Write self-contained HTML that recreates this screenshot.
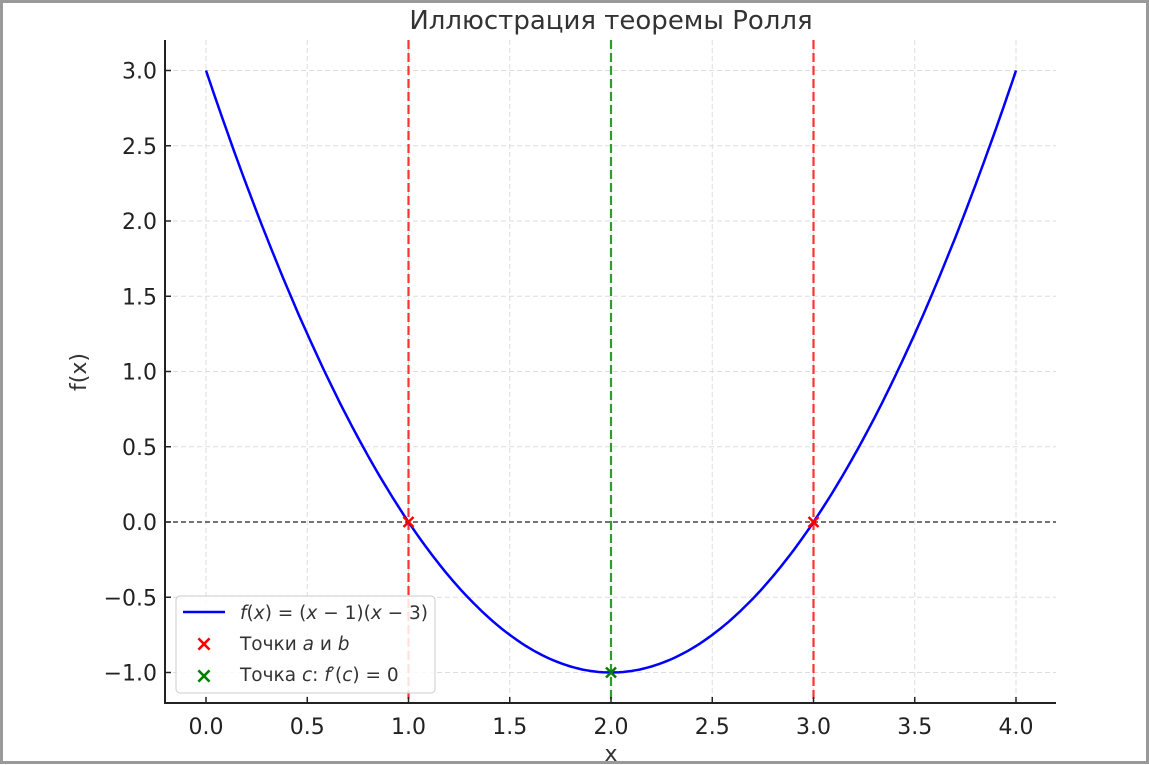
<!DOCTYPE html>
<html><head><meta charset="utf-8"><style>
html,body{margin:0;padding:0;background:#fff}
svg{display:block;font-family:"DejaVu Sans","Liberation Sans",sans-serif}
</style></head><body>
<svg id="chart" width="1149" height="765">
<rect x="1.5" y="1.5" width="1146" height="761" fill="#fff" stroke="#999" stroke-width="3"/>
<g id="grid"></g>
<g id="marks"></g>
<g id="axes"></g>
<text x="611" y="29" font-size="26" fill="#333" text-anchor="middle">Иллюстрация теоремы Ролля</text>
<text x="611" y="761" font-size="22" fill="#333" text-anchor="middle">x</text>
<text transform="translate(86,372) rotate(-90)" font-size="22" fill="#333" text-anchor="middle">f(x)</text>
<g>
<rect x="176" y="596" width="259" height="97" rx="4" fill="#fff" fill-opacity="0.85" stroke="#ccc"/>
<line x1="183" y1="612" x2="225" y2="612" stroke="#0000ff" stroke-width="2.5"/>
<text x="240" y="619" font-size="18.5" fill="#333"><tspan font-style="italic">f</tspan>(<tspan font-style="italic">x</tspan>) = (<tspan font-style="italic">x</tspan> − 1)(<tspan font-style="italic">x</tspan> − 3)</text>
<text x="204" y="651" font-size="22" fill="#ff0000" text-anchor="middle" font-weight="bold">×</text>
<text x="240" y="650" font-size="18.5" fill="#333">Точки <tspan font-style="italic">a</tspan> и <tspan font-style="italic">b</tspan></text>
<text x="204" y="683" font-size="22" fill="#008000" text-anchor="middle" font-weight="bold">×</text>
<text x="240" y="681" font-size="18.5" fill="#333">Точка <tspan font-style="italic">c</tspan>: <tspan font-style="italic">f</tspan>′(<tspan font-style="italic">c</tspan>) = 0</text>
</g>
</svg>
<script>
const xTicks=[0,0.5,1,1.5,2,2.5,3,3.5,4];
const yTicks=[-1,-0.5,0,0.5,1,1.5,2,2.5,3];
const abX=[1,3];
const cX=[2];
const xDomain=[0,4];
const NS="http://www.w3.org/2000/svg";
const X=v=>206+(v-0)*202.5;
const Y=v=>522-v*150.5;
const f=x=>(x-1)*(x-3);
function mk(p,t,a){const e=document.createElementNS(NS,t);for(const k in a)e.setAttribute(k,a[k]);p.appendChild(e);return e;}
const grid=document.getElementById('grid'),marks=document.getElementById('marks'),axes=document.getElementById('axes');
const L=165,R=1056,T=40,B=703;
xTicks.forEach(t=>{
 const g=mk(grid,'line',{x1:X(t),x2:X(t),y1:T,y2:B,stroke:'#ddd','stroke-dasharray':'5,3'});
 
 
 const tk=mk(axes,'line',{x1:X(t),x2:X(t),y1:B,y2:B-6,stroke:'#222','stroke-width':1.5});
 
 
 const tx=mk(axes,'text',{x:X(t),y:B+31,'font-size':22,fill:'#222','text-anchor':'middle'});
 tx.textContent=t.toFixed(1);
 
 
});
yTicks.forEach(t=>{
 const g=mk(grid,'line',{x1:L,x2:R,y1:Y(t),y2:Y(t),stroke:'#ddd','stroke-dasharray':'5,3'});
 
 
 const tk=mk(axes,'line',{x1:L,x2:L+6,y1:Y(t),y2:Y(t),stroke:'#222','stroke-width':1.5});
 
 
 const tx=mk(axes,'text',{x:L-8,y:Y(t)+8,'font-size':22,fill:'#222','text-anchor':'end'});
 tx.textContent=(t<0?'−':'')+Math.abs(t).toFixed(1);
 
 
});
const zl=mk(marks,'line',{x1:L,x2:R,y1:Y(0),y2:Y(0),stroke:'#222','stroke-width':1.2,'stroke-dasharray':'5,3'});


abX.forEach(v=>{
 const l=mk(marks,'line',{x1:X(v),x2:X(v),y1:T,y2:B,stroke:'#ff3333','stroke-width':2.2,'stroke-dasharray':'9,4'});
 
 
});
cX.forEach(v=>{
 const l=mk(marks,'line',{x1:X(v),x2:X(v),y1:T,y2:B,stroke:'#339933','stroke-width':2.2,'stroke-dasharray':'9,4'});
 
 
});
let d='';for(let i=0;i<=200;i++){const x=xDomain[0]+(xDomain[1]-xDomain[0])*i/200;d+=(i?'L':'M')+X(x).toFixed(1)+','+Y(f(x)).toFixed(1);}
const cur=mk(marks,'path',{d:d,fill:'none',stroke:'#0000ff','stroke-width':2.5});


function cross(v,col,name){const x=X(v),y=Y(f(v)),s=5;
 const p=mk(marks,'path',{d:`M${x-s},${y-s}L${x+s},${y+s}M${x-s},${y+s}L${x+s},${y-s}`,stroke:col,'stroke-width':2.5});
 
 }
abX.forEach(v=>cross(v,'#ff0000','point-ab'));
cX.forEach(v=>cross(v,'#008000','point-c'));
const ls=mk(axes,'line',{x1:L,x2:L,y1:T,y2:B+1,stroke:'#222','stroke-width':2});


const bs=mk(axes,'line',{x1:L-1,x2:R,y1:B,y2:B,stroke:'#222','stroke-width':2});


</script>
</body></html>
